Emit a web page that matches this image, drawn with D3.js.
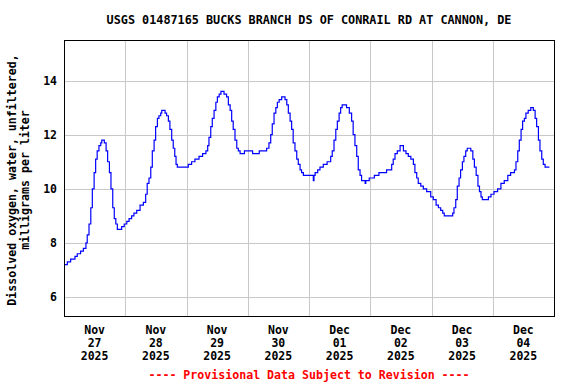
<!DOCTYPE html>
<html><head><meta charset="utf-8">
<script src="https://cdn.jsdelivr.net/npm/d3@7"></script>
<style>body{margin:0;background:#fff}svg{display:block}text{font-family:"DejaVu Sans Mono",monospace;font-weight:bold}</style>
</head><body><svg id="c" width="576" height="384"></svg>
<script>
const title = "USGS 01487165 BUCKS BRANCH DS OF CONRAIL RD AT CANNON, DE";
const yLabelLines = ["Dissolved oxygen, water, unfiltered,", "milligrams per liter"];
const footer = "---- Provisional Data Subject to Revision ----";
const startDate = new Date(2025, 10, 27, 0, 0);
const endDate = new Date(2025, 11, 5, 0, 0);
const yTicks = [6, 8, 10, 12, 14];
const dayTickMonth = ["Nov","Nov","Nov","Nov","Dec","Dec","Dec","Dec"];
const dayTickDay = ["27","28","29","30","01","02","03","04"];
const dayTickYear = ["2025","2025","2025","2025","2025","2025","2025","2025"];
// hours after 2025-11-27 00:00
const hours = [0,1.3,2.6,4.3,5.2,6.5,7.6,8.6,9.1,9.8,10.5,11.1,11.8,12.4,13.0,13.7,14.4,14.8,15.8,16.5,17.1,17.8,18.4,19.1,19.7,20.3,20.9,22.6,23.6,24.6,25.5,26.5,27.4,28.5,29.8,31.1,32.0,32.6,33.3,34.0,34.6,35.3,35.9,36.6,37.2,37.9,38.3,39.6,40.2,40.9,41.5,42.2,42.8,43.4,43.9,44.4,48.7,50.0,51.3,52.9,54.3,55.6,56.3,56.8,57.5,58.1,58.8,59.5,60.1,60.8,61.5,62.7,63.7,64.4,65.1,65.7,66.3,67.0,67.7,68.3,69.0,70.7,73.9,76.5,79.4,80.3,81.0,81.6,82.3,83.0,83.6,84.3,85.3,86.6,87.3,87.9,88.6,89.2,89.8,90.5,91.2,91.8,92.5,93.1,93.8,97.7,97.95,98.4,99.4,100.3,101.6,103.1,104.5,105.1,105.8,106.5,107.1,107.8,108.4,109.0,110.7,111.8,112.7,113.3,114.0,114.7,115.3,116.0,116.6,118.0,118.25,119.6,121.6,123.4,126.4,128.4,129.0,129.7,130.6,131.7,133.0,134.0,134.9,135.9,136.9,137.5,138.2,138.8,139.8,140.8,142.1,143.7,144.7,145.8,146.7,147.6,148.4,149.0,152.3,152.8,153.5,154.1,154.8,155.4,156.1,156.7,157.4,158.0,159.4,160.2,160.8,161.5,162.2,162.8,163.4,163.9,166.3,167.3,168.5,169.9,171.2,172.5,173.9,175.0,176.5,177.1,177.8,178.4,179.1,179.7,180.4,181.0,181.9,182.9,183.9,184.6,185.2,185.9,186.5,187.2,187.8,188.5,190.2];
const oxygen = [7.2,7.3,7.4,7.5,7.6,7.7,7.8,8.0,8.3,8.7,9.3,10.0,10.6,11.1,11.4,11.6,11.7,11.8,11.7,11.4,11.0,10.6,10.0,9.3,8.9,8.7,8.5,8.6,8.7,8.8,8.9,9.0,9.1,9.2,9.4,9.5,9.8,10.2,10.4,10.8,11.4,11.8,12.3,12.6,12.7,12.8,12.9,12.8,12.7,12.5,12.2,11.8,11.5,11.2,10.9,10.8,10.9,11.0,11.1,11.2,11.3,11.4,11.6,11.9,12.3,12.6,12.9,13.2,13.4,13.5,13.6,13.5,13.4,13.1,12.9,12.5,12.2,11.8,11.5,11.4,11.3,11.4,11.3,11.4,11.5,11.7,12.0,12.4,12.8,13.0,13.2,13.3,13.4,13.3,13.1,12.8,12.5,12.2,11.7,11.4,11.1,10.9,10.7,10.6,10.5,10.3,10.5,10.6,10.7,10.8,10.9,11.0,11.2,11.4,11.8,12.2,12.5,12.8,13.0,13.1,13.0,12.8,12.5,12.0,11.6,11.2,10.7,10.5,10.3,10.2,10.3,10.4,10.5,10.6,10.7,10.9,11.1,11.3,11.4,11.6,11.4,11.3,11.2,11.1,10.9,10.6,10.4,10.2,10.1,10.0,9.9,9.7,9.6,9.4,9.3,9.2,9.1,9.0,9.1,9.3,9.6,10.1,10.4,10.7,11.0,11.2,11.4,11.5,11.4,11.1,10.8,10.5,10.1,9.9,9.7,9.6,9.7,9.8,9.9,10.0,10.2,10.3,10.5,10.6,10.7,11.0,11.4,11.8,12.2,12.5,12.6,12.8,12.9,13.0,12.9,12.6,12.3,11.8,11.4,11.1,10.9,10.8,10.8];

const svg = d3.select("#c");
const m = {left:64, right:554, top:40, bottom:316};
const x = d3.scaleTime().domain([startDate, endDate]).range([m.left, m.right]);
const y = d3.scaleLinear().domain([5.3, 15.5]).range([m.bottom, m.top]);
const data = hours.map((h,i)=>({t:new Date(startDate.getTime()+h*3600e3), v:oxygen[i]}));

// grid
const days = d3.timeDay.range(d3.timeDay.offset(startDate,1), endDate);
svg.append("g").selectAll("line").data(days).join("line")
  .attr("x1",d=>Math.round(x(d))+0.5).attr("x2",d=>Math.round(x(d))+0.5)
  .attr("y1",m.top).attr("y2",m.bottom).attr("stroke","#c8c8c8").attr("stroke-width",1);
svg.append("g").selectAll("line").data(yTicks).join("line")
  .attr("x1",m.left).attr("x2",m.right)
  .attr("y1",d=>Math.round(y(d))+0.5).attr("y2",d=>Math.round(y(d))+0.5)
  .attr("stroke","#c8c8c8").attr("stroke-width",1);

// line
svg.append("path").datum(data)
  .attr("fill","none").attr("stroke","#0000ff").attr("stroke-width",1.2)
  .attr("d", d3.line().x(d=>x(d.t)).y(d=>y(d.v)).curve(d3.curveStepAfter));

// frame
svg.append("rect").attr("x",m.left+0.5).attr("y",m.top+0.5)
  .attr("width",m.right-m.left).attr("height",m.bottom-m.top)
  .attr("fill","none").attr("stroke","#000").attr("stroke-width",1);

// y tick labels
svg.append("g").selectAll("text").data(yTicks).join("text")
  .attr("x",57).attr("y",d=>y(d)).attr("dy","0.35em")
  .attr("text-anchor","end").attr("font-size",11.5).text(d=>d);

// x tick labels (centered at noon)
const noons = dayTickDay.map((d,i)=>d3.timeHour.offset(d3.timeDay.offset(startDate,i),12));
const xl = svg.append("g").selectAll("text").data(noons).join("text")
  .attr("text-anchor","middle").attr("font-size",11.5);
xl.append("tspan").attr("x",d=>x(d)).attr("y",334).text((d,i)=>dayTickMonth[i]);
xl.append("tspan").attr("x",d=>x(d)).attr("y",347).text((d,i)=>dayTickDay[i]);
xl.append("tspan").attr("x",d=>x(d)).attr("y",360).text((d,i)=>dayTickYear[i]);

// title
svg.append("text").attr("x",(m.left+m.right)/2).attr("y",24)
  .attr("text-anchor","middle").attr("font-size",11.8).text(title);

// y label
svg.append("text").attr("transform","translate(0,180) rotate(-90)")
  .attr("text-anchor","middle").attr("font-size",11.6)
  .selectAll("tspan").data(yLabelLines).join("tspan")
  .attr("x",0).attr("y",(d,i)=>16+i*13).text(d=>d);

// footer
svg.append("text").attr("x",(m.left+m.right)/2).attr("y",379)
  .attr("text-anchor","middle").attr("font-size",11.6).attr("fill","#ff0000").text(footer);
</script></body></html>
